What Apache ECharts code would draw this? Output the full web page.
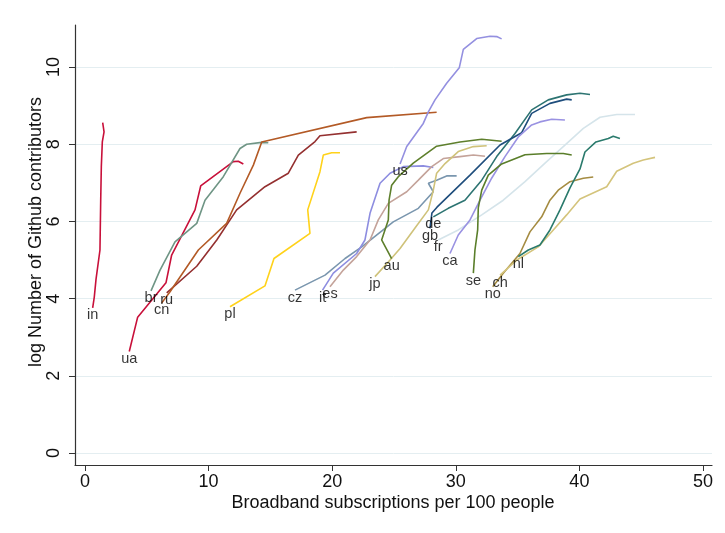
<!DOCTYPE html>
<html><head><meta charset="utf-8">
<script src="https://cdn.jsdelivr.net/npm/echarts@6/dist/echarts.min.js"></script>
<style>html,body{margin:0;padding:0;background:#fff}#c{width:725px;height:533px}</style>
</head><body><div id="c"></div>
<script>
// ---- data (broadband per 100 people, log GitHub contributors) ----
const xTicks = [0, 10, 20, 30, 40, 50];
const yTicks = [0, 2, 4, 6, 8, 10];
const xTitle = 'Broadband subscriptions per 100 people';
const yTitle = 'log Number of Github contributors';

const d_in = [[0.62,3.76],[0.75,4.04],[0.89,4.5],[1.21,5.26],[1.27,6.55],[1.32,7.42],[1.40,8.06],[1.54,8.32],[1.43,8.56]];
const d_ua = [[3.58,2.63],[4.26,3.52],[6.55,4.41],[7.01,5.13],[8.90,6.30],[9.36,6.92],[12.0,7.55],[12.40,7.56],[12.81,7.49]];
const d_br = [[5.34,4.20],[6.07,4.74],[7.28,5.47],[9.04,5.95],[9.71,6.55],[11.19,7.16],[12.54,7.89],[13.08,8.00],[14.30,8.05],[14.83,8.04]];
const d_ru = [[6.61,4.15],[9.04,4.84],[10.66,5.52],[12.27,6.30],[14.56,6.90],[16.45,7.25],[17.26,7.72],[18.61,8.07],[19.01,8.22],[21.98,8.32]];
const d_cn = [[6.21,3.89],[6.88,4.18],[9.17,5.26],[11.46,5.95],[12.54,6.73],[13.62,7.46],[14.30,8.06],[22.79,8.69],[28.45,8.83]];
const d_pl = [[11.73,3.79],[14.56,4.33],[15.29,5.04],[18.20,5.69],[18.02,6.30],[19.01,7.29],[19.28,7.72],[19.96,7.78],[20.63,7.78]];
const d_cz = [[16.99,4.22],[19.42,4.61],[21.04,5.04],[22.39,5.34],[24.94,5.99],[26.97,6.34],[28.18,6.77],[27.78,6.99],[28.45,7.07],[29.26,7.18],[30.07,7.18]];
const d_it = [[19.22,4.22],[20.09,4.66],[21.98,5.17],[22.65,5.52],[23.06,6.21],[23.87,6.99],[24.68,7.25],[25.75,7.42],[27.37,7.44],[28.18,7.40]];
const d_es = [[19.82,4.31],[20.90,4.74],[21.98,5.09],[23.06,5.52],[23.73,6.04],[24.54,6.47],[26.03,6.77],[26.97,7.07],[28.05,7.42],[28.99,7.63],[30.34,7.68],[31.42,7.72],[32.36,7.69]];
const d_jp = [[23.46,4.57],[24.68,5.00],[25.49,5.30],[26.70,5.83],[27.78,6.30],[28.18,6.81],[28.45,7.25],[29.13,7.50],[30.20,7.81],[31.42,7.94],[32.50,7.96]];
const d_au = [[24.81,5.04],[24.00,5.52],[24.54,6.04],[24.60,6.55],[24.81,6.94],[25.35,7.16],[26.56,7.51],[28.45,7.95],[30.34,8.06],[32.10,8.13],[33.71,8.08]];
const d_us = [[25.49,7.49],[26.03,7.94],[26.70,8.24],[27.37,8.54],[27.78,8.84],[28.32,9.15],[29.26,9.58],[30.28,9.98],[30.61,10.46],[31.69,10.74],[32.77,10.80],[33.31,10.79],[33.71,10.73]];
const d_de = [[28.18,6.12],[29.39,6.34],[30.74,6.55],[32.10,7.07],[33.31,7.68],[34.79,8.28],[36.14,8.89],[37.48,9.15],[38.97,9.28],[40.05,9.32],[40.86,9.29]];
const d_gb = [[27.91,5.82],[28.07,6.22],[28.48,6.37],[31.15,7.20],[33.58,7.98],[35.33,8.30],[36.14,8.80],[37.62,9.06],[38.97,9.17],[39.38,9.15]];
const d_fr = [[28.58,5.52],[30.20,5.78],[32.10,6.17],[33.84,6.55],[35.60,7.03],[37.22,7.51],[38.83,7.98],[40.32,8.41],[41.67,8.70],[43.02,8.77],[44.50,8.77]];
const d_ca = [[29.53,5.17],[30.20,5.65],[31.15,6.04],[31.96,6.55],[32.90,7.12],[33.98,7.68],[35.06,8.19],[36.14,8.50],[36.81,8.58],[37.76,8.65],[38.83,8.63]];
const d_se = [[31.42,4.66],[31.55,5.26],[31.77,5.78],[31.82,6.35],[32.10,6.81],[32.63,7.20],[33.71,7.49],[35.60,7.73],[37.35,7.76],[38.70,7.76],[39.38,7.72]];
const d_no = [[32.99,4.31],[33.84,4.66],[35.19,5.17],[36.00,5.73],[36.95,6.12],[37.62,6.55],[38.29,6.81],[39.24,7.03],[40.32,7.12],[41.12,7.15]];
const d_ch = [[33.58,4.61],[34.93,5.00],[36.67,5.34],[37.89,5.78],[38.97,6.17],[40.05,6.58],[42.21,6.90],[43.02,7.30],[44.36,7.51],[45.17,7.59],[46.12,7.66]];
const d_nl = [[35.06,5.09],[35.87,5.26],[36.81,5.39],[37.62,5.78],[38.43,6.30],[39.24,6.87],[40.05,7.36],[40.45,7.80],[41.34,8.06],[42.34,8.15],[42.74,8.21],[43.28,8.15]];

const countries = ['in','ua','br','ru','cn','pl','cz','it','es','jp','au','us','de','gb','fr','ca','se','no','ch','nl'];
const seriesData = [d_in,d_ua,d_br,d_ru,d_cn,d_pl,d_cz,d_it,d_es,d_jp,d_au,d_us,d_de,d_gb,d_fr,d_ca,d_se,d_no,d_ch,d_nl];
const colors = ['#c8103a','#c8103a','#6f9585','#943030','#b35a26','#ffd21a','#7a96ae','#8d8de0','#c4a39a','#cfc27a','#5e7f2c','#9490e0','#2d7472','#1e4d7c','#d5e4ea','#9a92e2','#5a7e2a','#a58c42','#d4c47c','#2a7a6c'];

const FONT = '"Liberation Sans", Arial, Helvetica, sans-serif';
const chart = echarts.init(document.getElementById('c'), null, {renderer: 'canvas'});

const series = countries.map((c, i) => ({
  name: c, type: 'line', data: seriesData[i], showSymbol: false, symbol: 'none',
  lineStyle: {color: colors[i], width: 1.6}, itemStyle: {color: colors[i]},
  silent: true, animation: false, z: 2
}));
series.push({
  type: 'scatter', symbolSize: 0, silent: true, animation: false, z: 5,
  data: countries.map((c, i) => ({name: c, value: seriesData[i][0]})),
  label: {show: true, formatter: '{b}', position: 'bottom', distance: 0,
          fontFamily: FONT, fontSize: 14.5, color: '#000'}
});

chart.setOption({
  backgroundColor: '#ffffff',
  animation: false,
  grid: {left: 75, right: 13, top: 25, bottom: 68, containLabel: false},
  xAxis: {
    type: 'value', min: -0.81, max: 50.73,
    axisLine: {show: true, onZero: false, lineStyle: {color: '#333', width: 1.2}},
    axisTick: {show: true, customValues: xTicks, length: 6, lineStyle: {color: '#333'}},
    axisLabel: {customValues: xTicks, margin: 8, fontFamily: FONT, fontSize: 18, color: '#111'},
    splitLine: {show: false}
  },
  yAxis: {
    type: 'value', min: -0.31, max: 11.09,
    axisLine: {show: true, onZero: false, lineStyle: {color: '#333', width: 1.2}},
    axisTick: {show: true, customValues: yTicks, length: 6, lineStyle: {color: '#333'}},
    axisLabel: {customValues: yTicks, rotate: 90, margin: 12, fontFamily: FONT, fontSize: 18, color: '#111'},
    splitLine: {show: true, lineStyle: {color: '#e4eef1', width: 1}}
  },
  graphic: [
    {type: 'text', x: 393, y: 503, style: {text: xTitle, font: '18px ' + FONT, fill: '#111', textAlign: 'center', textVerticalAlign: 'middle'}},
    {type: 'text', x: 36, y: 232, rotation: Math.PI / 2, style: {text: yTitle, font: '18px ' + FONT, fill: '#111', textAlign: 'center', textVerticalAlign: 'middle'}}
  ],
  series: series
});
</script>
</body></html>
